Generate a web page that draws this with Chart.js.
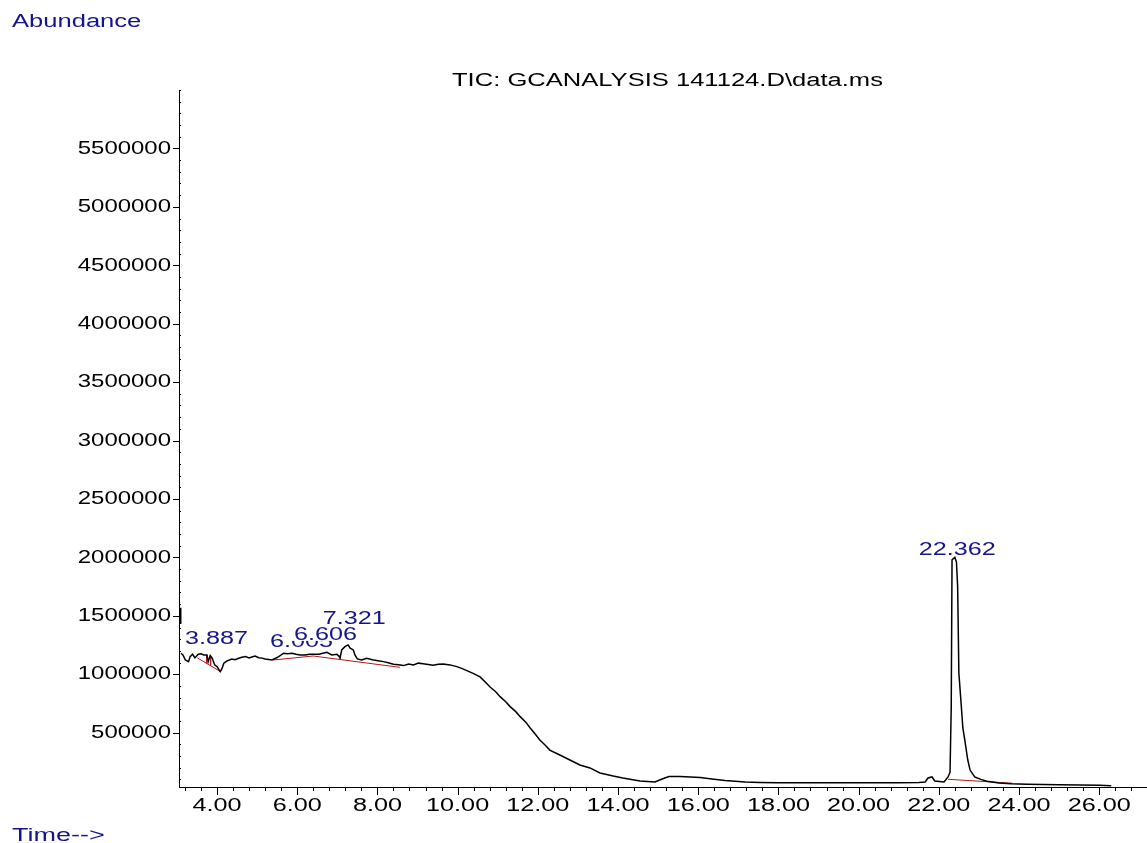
<!DOCTYPE html>
<html>
<head>
<meta charset="utf-8">
<title>TIC chromatogram</title>
<script src="https://cdn.jsdelivr.net/npm/chart.js@4.4.1/dist/chart.umd.min.js"></script>
<style>
  body { margin: 0; background: #fff; }
  #wrap { position: relative; width: 1147px; height: 843px; background: #fff; }
  #chartBox { position: absolute; left: 0; top: 0; width: 1147px; height: 843px; }
  .lbl {
    position: absolute;
    font: 18px "Liberation Sans", Arial, sans-serif;
    line-height: 18px;
    white-space: nowrap;
    transform-origin: 0 0;
    transform: scaleX(1.42);
  }
  #abundance { left: 12px; top: 12px; color: #141490; }
  #title { left: 452px; top: 71px; color: #000; }
  #time { left: 12px; top: 826px; color: #141490; transform: scaleX(1.5); }
</style>
</head>
<body>
<div id="wrap">
  <div id="chartBox"><canvas id="chart"></canvas></div>
  <div class="lbl" id="abundance">Abundance</div>
  <div class="lbl" id="title">TIC: GCANALYSIS 141124.D\data.ms</div>
  <div class="lbl" id="time">Time--&gt;</div>
</div>
<script>
// ---- data ----
const retentionTimes = [
  3.09, 3.095, 3.10, 3.10, 3.15, 3.21, 3.29, 3.33, 3.39, 3.45, 3.53, 3.60, 3.67, 3.75, 3.78, 3.83,
  3.88, 3.94, 4.00, 4.08, 4.12, 4.17, 4.25, 4.37, 4.45, 4.54, 4.62, 4.71, 4.80, 4.87, 4.95, 5.04,
  5.12, 5.20, 5.29, 5.37, 5.45, 5.54, 5.66, 5.76, 5.87, 5.97, 6.07, 6.20, 6.30, 6.40, 6.54, 6.64,
  6.74, 6.86, 6.99, 7.07, 7.11, 7.19, 7.27, 7.32, 7.40, 7.44, 7.50, 7.61, 7.73, 7.90, 8.02, 8.15,
  8.27, 8.40, 8.52, 8.65, 8.78, 8.90, 9.02, 9.14, 9.27, 9.39, 9.52, 9.64, 9.81, 9.98, 10.10, 10.23,
  10.40, 10.56, 10.70, 10.81, 10.95, 11.06, 11.20, 11.31, 11.45, 11.56, 11.70, 11.81, 11.93, 12.05,
  12.18, 12.30, 12.42, 12.55, 12.80, 13.05, 13.30, 13.55, 13.88, 14.12, 14.55, 14.92, 15.10, 15.27,
  15.55, 16.05, 16.34, 16.67, 17.17, 17.54, 18.00, 18.60, 19.20, 19.80, 20.40, 21.00, 21.50, 21.66,
  21.73, 21.83, 21.90, 22.13, 22.23, 22.28, 22.31, 22.33, 22.40, 22.44, 22.47, 22.50, 22.55, 22.60,
  22.66, 22.72, 22.78, 22.90, 23.05, 23.20, 23.50, 23.80, 24.20, 24.60, 25.00, 25.50, 26.00, 26.30
];
const abundance = [
  1570000, 1430000, null, 1180000, 1165000, 1122000, 1108000, 1151000, 1171000, 1140000, 1171000, 1175000, 1165000, 1165000, 1108000, 1159000,
  1137000, 1080000, 1065000, 1022000, 1045000, 1094000, 1114000, 1131000, 1125000, 1137000, 1146000, 1151000, 1140000, 1148000, 1155000, 1142000,
  1138000, 1131000, 1126000, 1122000, 1135000, 1151000, 1180000, 1176000, 1180000, 1172000, 1165000, 1165000, 1172000, 1171000, 1171000, 1180000,
  1188000, 1165000, 1171000, 1142000, 1208000, 1236000, 1251000, 1223000, 1208000, 1165000, 1131000, 1122000, 1137000, 1122000, 1115000, 1108000,
  1098000, 1086000, 1082000, 1074000, 1088000, 1080000, 1095000, 1090000, 1084000, 1078000, 1086000, 1088000, 1080000, 1065000, 1050000, 1031000,
  1005000, 977000, 930000, 891000, 850000, 808000, 765000, 723000, 680000, 637000, 590000, 540000, 490000, 437000,
  395000, 351000, 330000, 309000, 266000, 223000, 198000, 155000, 129000, 112000, 86000, 78000, 104000, 125000,
  125000, 116000, 104000, 91000, 78000, 74000, 72000, 71000, 72000, 71000, 72000, 72000, 73000, 78000,
  112000, 121000, 86000, 78000, 121000, 160000, 720000, 1980000, 2000000, 1960000, 1750000, 1010000, 780000, 540000,
  410000, 270000, 180000, 120000, 100000, 85000, 70000, 62000, 58000, 56000, 54000, 52000, 49000, 45000
];

// integration baselines and drop lines (time, abundance)
const baseline1 = [[3.51, 1140000], [4.10, 1020000]];
const dropLine1 = [[3.74, 1165000], [3.74, 1094000]];
const dropLine2 = [[3.84, 1160000], [3.84, 1074000]];
const baseline2 = [[5.40, 1122000], [6.40, 1156000], [8.56, 1059000]];
const dropLine3 = [[7.07, 1165000], [7.07, 1122000]];
const baseline3 = [[22.23, 101000], [23.84, 67000]];

// peak annotations
const peakTimes = [3.887, 6.005, 6.606, 7.321, 22.362];
const peakLabels = ['3.887', '6.005', '6.606', '7.321', '22.362'];
const labelLevels = [1259000, 1234000, 1294000, 1431000, 2021000];

// axes
const xMajorTicks = [4, 6, 8, 10, 12, 14, 16, 18, 20, 22, 24, 26];
const yMajorTicks = [500000, 1000000, 1500000, 2000000, 2500000, 3000000, 3500000, 4000000, 4500000, 5000000, 5500000];
const X_MIN = 3.052, X_MAX = 27.167, X_MINOR = 0.4;
const Y_MIN = 35000, Y_MAX = 6000000, Y_MINOR = 100000;

const BLUE = '#141490';
const RED = '#b01818';
const FONT = '"Liberation Sans", Arial, sans-serif';
const TEXT_STRETCH = 1.4;     // printout text is drawn wide
const Y_TEXT_STRETCH = 1.26;

Chart.defaults.font.family = FONT;
Chart.defaults.color = '#000';

const toPoints = pairs => pairs.map(p => ({ x: p[0], y: p[1] }));
const isMajorX = v => xMajorTicks.some(m => Math.abs(m - v) < 1e-6);
const isMajorY = v => yMajorTicks.includes(v);

// stretch every canvas text horizontally, anchored at its align point
const wideText = {
  id: 'wideText',
  beforeInit(chart) {
    const ctx = chart.ctx;
    const fill = ctx.fillText.bind(ctx);
    ctx.fillText = (text, x, y) => {
      const k = ctx.textAlign === 'right' ? Y_TEXT_STRETCH : TEXT_STRETCH;
      ctx.save();
      ctx.translate(x, y);
      ctx.scale(k, 1);
      fill(text, 0, 0);
      ctx.restore();
    };
  }
};

// major/minor tick marks like the ChemStation print
const tickMarks = {
  id: 'tickMarks',
  afterDraw(chart) {
    const { ctx, scales: { x, y } } = chart;
    ctx.save();
    ctx.strokeStyle = '#000';
    ctx.lineWidth = 1;
    ctx.beginPath();
    x.ticks.forEach(t => {
      const px = Math.round(x.getPixelForValue(t.value)) + 0.5;
      ctx.moveTo(px, x.top);
      ctx.lineTo(px, x.top + (isMajorX(t.value) ? 8 : 4));
    });
    y.ticks.forEach(t => {
      const py = Math.round(y.getPixelForValue(t.value)) + 0.5;
      if (isMajorY(t.value)) {
        ctx.moveTo(y.right - 6, py);
        ctx.lineTo(y.right, py);
      } else {
        ctx.moveTo(y.right, py);
        ctx.lineTo(y.right + 2, py);
      }
    });
    ctx.stroke();
    ctx.restore();
  }
};

// retention time labels, white boxed so later ones cover earlier ones
const peakText = {
  id: 'peakText',
  afterDatasetsDraw(chart) {
    const { ctx, scales: { x, y } } = chart;
    ctx.save();
    ctx.font = '18px ' + FONT;
    ctx.textAlign = 'center';
    ctx.textBaseline = 'alphabetic';
    peakLabels.forEach((label, i) => {
      const px = x.getPixelForValue(peakTimes[i]) + 4;
      const py = y.getPixelForValue(labelLevels[i]);
      const w = ctx.measureText(label).width * TEXT_STRETCH;
      ctx.fillStyle = '#fff';
      ctx.fillRect(px - w / 2 - 2, py - 14, w + 4, 15);
      ctx.fillStyle = BLUE;
      ctx.fillText(label, px, py);
    });
    ctx.restore();
  }
};

const redLine = data => ({
  data: toPoints(data),
  borderColor: RED,
  borderWidth: 1,
  pointRadius: 0
});

new Chart(document.getElementById('chart'), {
  type: 'line',
  data: {
    datasets: [
      {
        data: retentionTimes.map((t, i) => ({ x: t, y: abundance[i] })),
        borderColor: '#000',
        borderWidth: 1.5,
        pointRadius: 0,
        tension: 0
      },
      redLine(baseline1),
      redLine(dropLine1),
      redLine(dropLine2),
      redLine(baseline2),
      redLine(dropLine3),
      redLine(baseline3)
    ]
  },
  options: {
    responsive: true,
    maintainAspectRatio: false,
    animation: false,
    layout: { padding: { top: 90, right: 1, left: 0, bottom: 0 } },
    plugins: { legend: { display: false }, tooltip: { enabled: false } },
    scales: {
      x: {
        type: 'linear',
        min: X_MIN,
        max: X_MAX,
        grid: { display: false, drawTicks: false },
        border: { display: true, color: '#000', width: 1 },
        ticks: {
          autoSkip: false,
          maxRotation: 0,
          padding: 8,
          font: { size: 18 },
          callback: v => (isMajorX(v) ? v.toFixed(2) : '')
        },
        afterBuildTicks: scale => {
          const ticks = [];
          for (let k = Math.ceil(X_MIN / X_MINOR); k * X_MINOR <= X_MAX; k++) {
            ticks.push({ value: Math.round(k * X_MINOR * 10) / 10 });
          }
          scale.ticks = ticks;
        },
        afterFit: scale => {
          scale.height = 56;
          scale.paddingLeft = 0;
          scale.paddingRight = 0;
        }
      },
      y: {
        min: Y_MIN,
        max: Y_MAX,
        grid: { display: false, drawTicks: false },
        border: { display: true, color: '#000', width: 1 },
        ticks: {
          autoSkip: false,
          padding: 8,
          font: { size: 19 },
          callback: v => (isMajorY(v) ? String(v) : '')
        },
        afterBuildTicks: scale => {
          const ticks = [];
          for (let v = Y_MINOR; v <= Y_MAX; v += Y_MINOR) ticks.push({ value: v });
          scale.ticks = ticks;
        },
        afterFit: scale => {
          scale.width = 179;
          scale.paddingTop = 0;
          scale.paddingBottom = 0;
        }
      }
    }
  },
  plugins: [wideText, tickMarks, peakText]
});
</script>
</body>
</html>
